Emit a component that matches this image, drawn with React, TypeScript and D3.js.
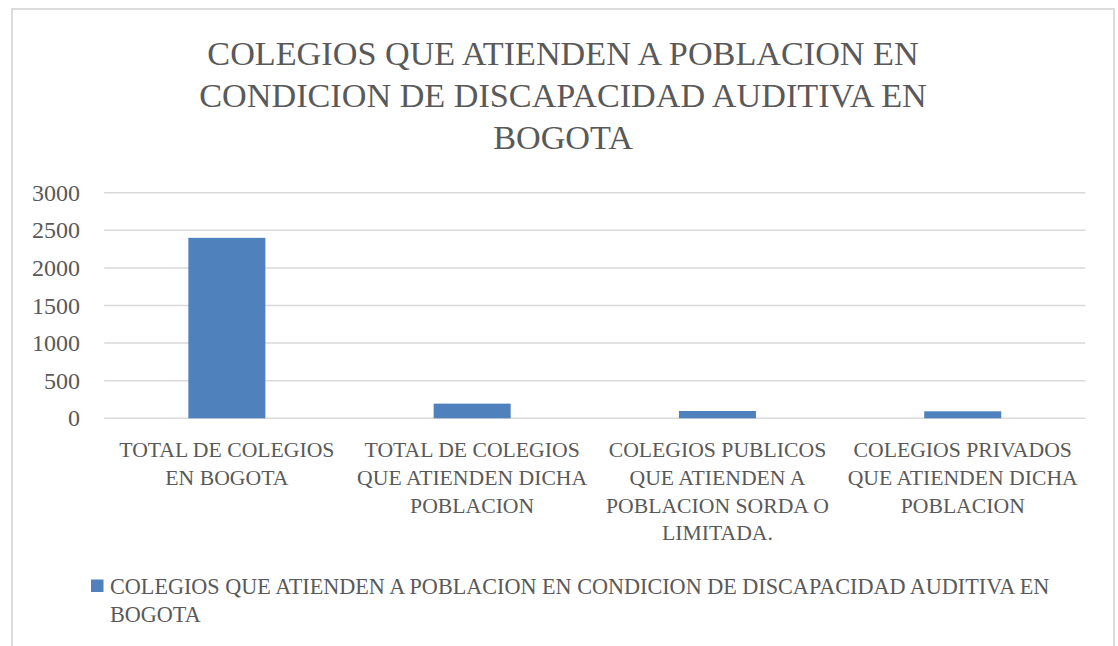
import React from "react";
import * as d3 from "d3";

const categories: string[][] = [
  ["TOTAL DE COLEGIOS", "EN BOGOTA"],
  ["TOTAL DE COLEGIOS", "QUE ATIENDEN DICHA", "POBLACION"],
  ["COLEGIOS PUBLICOS", "QUE ATIENDEN A", "POBLACION SORDA O", "LIMITADA."],
  ["COLEGIOS PRIVADOS", "QUE ATIENDEN DICHA", "POBLACION"],
];
const values: number[] = [2400, 195, 97, 93];
const yTicks: number[] = [0, 500, 1000, 1500, 2000, 2500, 3000];
const titleLines: string[] = [
  "COLEGIOS QUE ATIENDEN A POBLACION EN",
  "CONDICION DE DISCAPACIDAD AUDITIVA EN",
  "BOGOTA",
];
const legendLines: string[] = [
  "COLEGIOS QUE ATIENDEN A POBLACION EN CONDICION DE DISCAPACIDAD AUDITIVA EN",
  "BOGOTA",
];

const W = 1118;
const H = 646;
const FONT = "'Liberation Serif', 'Times New Roman', serif";
const TEXT = "#595959";
const GRID = "#d9d9d9";
const BAR = "#4f81bd";

export default function App() {
  const left = 104.2;
  const right = 1085.4;
  const top = 192.7;
  const bottom = 418.3;
  const x = d3
    .scaleBand<number>()
    .domain(categories.map((_, i) => i))
    .range([left, right])
    .paddingInner(0.686)
    .paddingOuter(0.343);
  const y = d3.scaleLinear().domain([0, 3000]).range([bottom, top]);
  const band = (right - left) / categories.length;

  return (
    <svg
      width={W}
      height={H}
      style={{ position: "absolute", left: 0, top: 0, background: "#fff" }}
      fontFamily={FONT}
    >
      <rect x={0} y={0} width={W} height={H} fill="#fff" />
      <rect x={12} y={9} width={1102} height={700} fill="none" stroke={GRID} strokeWidth={1.8} />
      {titleLines.map((t, i) => (
        <text key={i} x={563} y={65 + i * 42} textAnchor="middle" fontSize={34.2} fill={TEXT}>
          {t}
        </text>
      ))}
      {yTicks.map((t) => (
        <g key={t}>
          <line x1={left} x2={right} y1={y(t)} y2={y(t)} stroke={GRID} strokeWidth={1.5} />
          <text x={80} y={y(t) + 8} textAnchor="end" fontSize={24} fill={TEXT}>
            {t}
          </text>
        </g>
      ))}
      {values.map((v, i) => (
        <rect
          key={i}
          x={x(i)!}
          y={y(v)}
          width={x.bandwidth()}
          height={bottom - y(v)}
          fill={BAR}
        />
      ))}
      {categories.map((lines, i) => (
        <text key={i} textAnchor="middle" fontSize={21.7} fill={TEXT}>
          {lines.map((l, j) => (
            <tspan key={j} x={left + band * (i + 0.5)} y={457 + j * 27.8}>
              {l}
            </tspan>
          ))}
        </text>
      ))}
      <rect x={91} y={579.5} width={12.5} height={12.5} fill={BAR} />
      {legendLines.map((l, j) => (
        <text key={j} x={110} y={594 + j * 28} fontSize={22.2} fill={TEXT}>
          {l}
        </text>
      ))}
    </svg>
  );
}
